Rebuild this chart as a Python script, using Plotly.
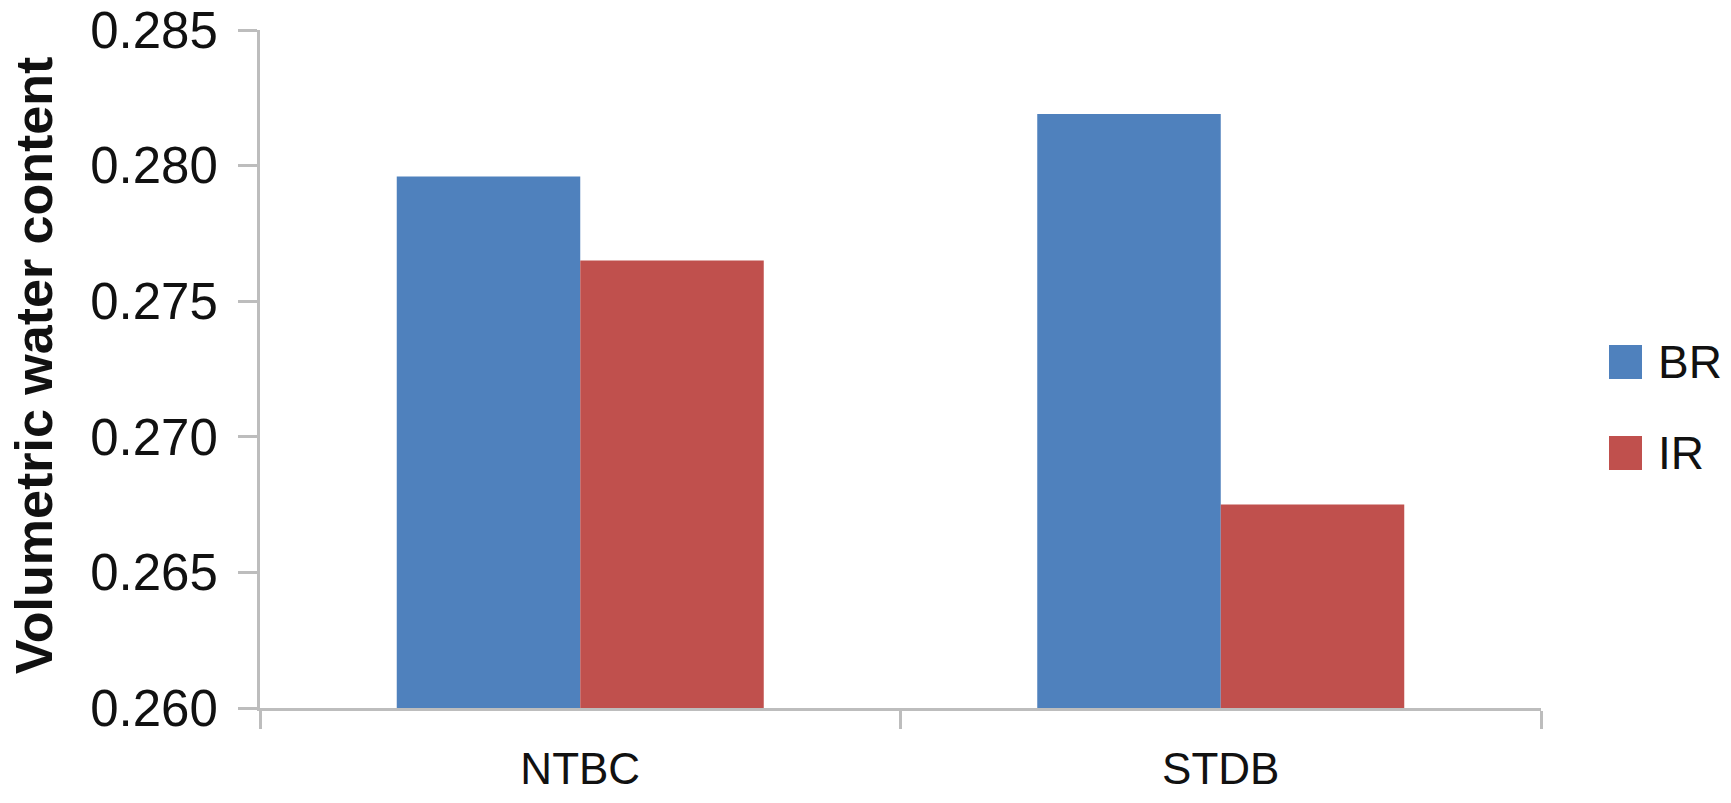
import plotly.graph_objects as go

# Data
categories = ["NTBC", "STDB"]
br_values = [0.2796, 0.2819]
ir_values = [0.2765, 0.2675]
series_names = ["BR", "IR"]
series_colors = ["#4F81BD", "#C0504D"]
y_ticks = [0.260, 0.265, 0.270, 0.275, 0.280, 0.285]
y_tick_text = ["0.260", "0.265", "0.270", "0.275", "0.280", "0.285"]

W, H = 1731, 803
M_L, M_R, M_T, M_B = 260, 190, 30, 95
PW, PH = W - M_L - M_R, H - M_T - M_B


def px_x(p):
    return (p - M_L) / PW


def px_y(p):
    return (H - M_B - p) / PH


AXIS_COLOR = "#BDBDBD"
TEXT_FONT = "Liberation Sans, Arial, sans-serif"

fig = go.Figure()
for name, vals, col in zip(series_names, [br_values, ir_values], series_colors):
    fig.add_trace(go.Bar(
        x=categories, y=vals, name=name,
        marker=dict(color=col, line=dict(width=0)),
        showlegend=False,
    ))

fig.update_layout(
    width=W, height=H,
    margin=dict(l=M_L, r=M_R, t=M_T, b=M_B, autoexpand=False),
    paper_bgcolor="white", plot_bgcolor="white",
    barmode="group", bargap=0.427, bargroupgap=0,
    font=dict(family=TEXT_FONT, color="#111111"),
)

fig.update_yaxes(
    range=[0.260, 0.285],
    tickvals=y_ticks, ticktext=y_tick_text,
    ticks="outside", ticklen=19, tickwidth=3, tickcolor=AXIS_COLOR,
    showline=True, linewidth=3, linecolor=AXIS_COLOR,
    showgrid=False, zeroline=False,
    tickfont=dict(size=51, family=TEXT_FONT, color="#111111"),
    ticklabelstandoff=10,
    automargin=False,
)
fig.update_xaxes(
    ticks="outside", tickson="boundaries", ticklen=18, tickwidth=3,
    tickcolor=AXIS_COLOR,
    showline=True, linewidth=3, linecolor=AXIS_COLOR,
    showgrid=False, zeroline=False,
    tickfont=dict(size=44, family=TEXT_FONT, color="#111111"),
    ticklabelstandoff=20,
    automargin=False,
)

# y-axis title
fig.add_annotation(
    text="<b>Volumetric water content</b>", textangle=-90,
    xref="paper", yref="paper", x=px_x(34), y=px_y(366),
    xanchor="center", yanchor="middle", showarrow=False,
    font=dict(size=52, family=TEXT_FONT, color="#111111"),
)

# legend keys
legend_rows = [362, 453]
for name, col, cy in zip(series_names, series_colors, legend_rows):
    fig.add_shape(
        type="rect", xref="paper", yref="paper",
        x0=px_x(1609), x1=px_x(1642), y0=px_y(cy - 17), y1=px_y(cy + 17),
        fillcolor=col, line=dict(width=0),
    )
    fig.add_annotation(
        text=name, xref="paper", yref="paper",
        x=px_x(1656), y=px_y(cy), xanchor="left", yanchor="middle",
        showarrow=False,
        font=dict(size=46, family=TEXT_FONT, color="#111111"),
    )

fig.write_html("out.html")
